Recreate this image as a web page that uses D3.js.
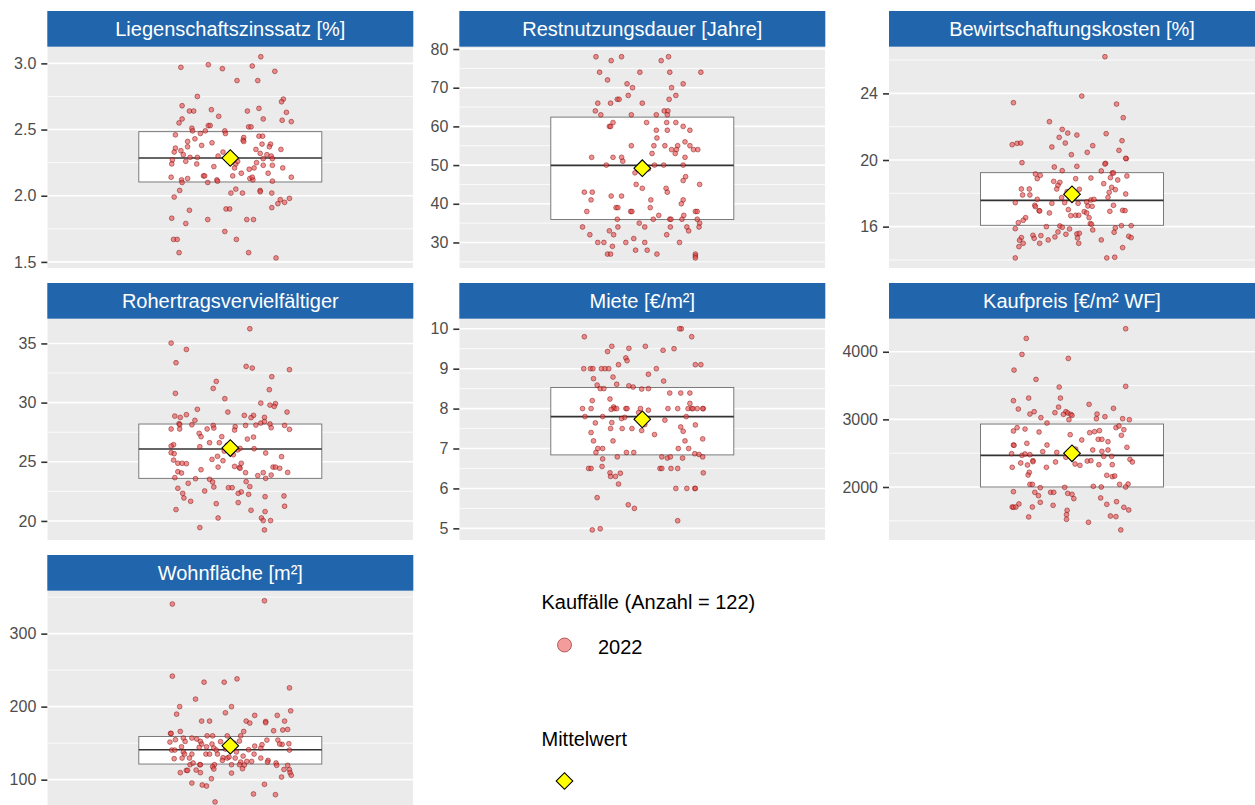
<!DOCTYPE html>
<html><head><meta charset="utf-8">
<script src="https://cdn.jsdelivr.net/npm/d3@7"></script>
<style>body{margin:0;background:#fff}svg{display:block;font-family:"Liberation Sans",Arial,sans-serif}</style>
</head><body><svg id="c" width="1255" height="805"></svg>
<script>
// ---------- data ----------
const panelTitles = ["Liegenschaftszinssatz [%]","Restnutzungsdauer [Jahre]","Bewirtschaftungskosten [%]","Rohertragsvervielfältiger","Miete [€/m²]","Kaufpreis [€/m² WF]","Wohnfläche [m²]"];
const tickValues = [[1.5,2,2.5,3],[30,40,50,60,70,80],[16,20,24],[20,25,30,35],[5,6,7,8,9,10],[2000,3000,4000],[100,200,300]];
const tickFormats = [".1f","d","d","d","d","d","d"];
const q1s     = [2.104, 35.95, 16.08, 23.6, 6.84, 2000, 121.4];
const medians = [2.285, 49.9, 17.58, 26.08, 7.8, 2468, 141];
const q3s     = [2.484, 62.4, 19.24, 28.19, 8.53, 2931, 159.2];
const means   = [2.285, 49.2, 17.94, 26.16, 7.73, 2498, 146.5];
const legendTitle = "Kauffälle (Anzahl = 122)";
const legendYear = "2022";
const legendMean = "Mittelwert";

// points: [horizontal jitter (-1..1 of jitter width), value]
const liegenschaftszinssatz = [[-0.81,2.97],[-0.36,2.99],[-0.13,2.96],[0.50,3.05],[0.36,2.98],[0.73,2.94],[0.11,2.87],[0.45,2.87],[-0.54,2.75],[0.87,2.73],[0.84,2.71],[-0.79,2.68],[-0.67,2.64],[-0.60,2.64],[-0.31,2.65],[0.92,2.63],[-0.19,2.60],[0.28,2.64],[0.47,2.66],[0.54,2.58],[-0.79,2.58],[-0.84,2.55],[0.85,2.57],[1.0,2.56],[-0.63,2.51],[-0.62,2.49],[-0.36,2.53],[-0.33,2.53],[-0.49,2.47],[-0.41,2.49],[-0.09,2.49],[-0.08,2.47],[0.30,2.52],[0.34,2.52],[-0.90,2.46],[-0.70,2.41],[0.47,2.45],[0.53,2.45],[0.22,2.44],[0.21,2.42],[0.22,2.41],[-0.47,2.38],[-0.30,2.40],[-0.70,2.37],[0.52,2.39],[0.66,2.39],[0.64,2.37],[-0.90,2.36],[-0.81,2.34],[-0.92,2.33],[0.83,2.35],[0.42,2.35],[-0.77,2.31],[-0.66,2.29],[-0.54,2.29],[-0.20,2.30],[0.49,2.32],[0.60,2.31],[0.67,2.30],[-0.95,2.27],[-0.96,2.24],[-0.73,2.26],[-0.55,2.24],[0.09,2.24],[0.07,2.21],[0.43,2.25],[0.54,2.28],[0.54,2.23],[0.69,2.28],[0.69,2.23],[0.86,2.21],[0.31,2.20],[0.39,2.21],[0.32,2.13],[0.37,2.12],[0.36,2.14],[0.04,2.15],[-0.44,2.15],[-0.42,2.15],[-0.97,2.14],[1.0,2.14],[-0.80,2.12],[-0.79,2.10],[-0.70,2.13],[-0.37,2.10],[-0.22,2.12],[-0.21,2.11],[0.69,2.11],[0.01,2.02],[0.09,2.05],[0.20,2.02],[0.49,2.04],[0.49,2.03],[0.68,2.02],[-0.92,1.99],[-0.83,2.04],[0.82,1.97],[0.89,1.95],[0.97,1.98],[0.78,1.94],[0.68,1.91],[-0.67,1.89],[-0.07,1.90],[-0.01,1.90],[-0.96,1.83],[-0.37,1.82],[-0.73,1.79],[0.27,1.82],[0.38,1.82],[-0.09,1.73],[0.10,1.67],[-0.93,1.67],[-0.87,1.67],[-0.84,1.57],[0.30,1.57],[0.75,1.53],[0.12,2.26],[-0.12,2.33],[0.18,2.17],[-0.27,2.22],[0.62,2.17],[-0.58,2.43]];
const restnutzungsdauer = [[-0.76,78],[-0.51,77],[-0.34,78],[0.31,77],[0.43,78],[-0.70,74],[-0.04,74],[0.45,74],[0.96,74],[-0.57,72],[-0.25,71],[-0.16,70],[0.48,70],[0.67,71],[-0.23,68],[0.55,68],[-0.73,66],[-0.52,66],[-0.41,67],[-0.38,67],[0.0,66],[0.44,67],[-0.77,64],[-0.68,63],[-0.18,63],[0.23,63],[0.36,64],[0.42,64],[0.41,63],[-0.54,60],[-0.52,60],[-0.48,61],[0.07,61],[0.40,61],[0.55,61],[0.67,60],[0.78,59],[0.23,59],[0.41,59],[0.24,57],[0.70,56],[-0.18,55],[0.19,55],[0.37,55],[0.58,55],[0.78,55],[0.48,54],[0.56,54],[0.84,54],[0.91,54],[0.54,53],[0.16,53],[-0.83,52],[-0.48,52],[-0.34,52],[-0.32,51],[0.70,52],[-0.59,50],[0.20,50],[0.35,50],[0.67,50],[0.71,47],[0.67,46],[-0.10,45],[0.0,44],[0.94,45],[0.39,44],[0.41,43],[-0.95,43],[-0.82,43],[-0.84,41],[-0.51,42],[-0.34,42],[0.14,41],[0.67,41],[0.64,40],[-0.91,38],[-0.43,39],[-0.40,39],[-0.19,38],[-0.17,38],[0.13,39],[0.87,38],[0.90,38],[-0.41,36],[0.18,36],[0.27,37],[0.45,36],[0.47,36],[0.65,36],[0.68,37],[0.90,36],[0.94,35],[0.93,34],[0.73,34],[0.76,33],[-0.98,34],[-0.40,34],[-0.05,35],[0.04,34],[0.46,34],[-0.54,33],[-0.47,32],[-0.86,32],[0.40,32],[-0.73,30],[-0.63,30],[-0.27,30],[-0.14,31],[0.04,30],[0.61,30],[-0.49,29],[-0.11,28],[0.08,28],[-0.57,27],[-0.52,27],[0.24,27],[0.87,27],[0.87,26.5],[0.87,26],[-0.12,48],[0.10,49]];
const bewirtschaftungskosten = [[0.54,26.2],[-0.96,23.44],[0.16,23.84],[0.73,23.36],[0.84,22.54],[-0.37,22.3],[-0.16,21.84],[-0.07,21.62],[0.08,21.5],[0.56,21.58],[-0.21,21.36],[0.82,21.16],[-0.98,20.92],[-0.90,21.0],[-0.84,21.02],[-0.11,21.02],[-0.33,20.78],[0.34,20.86],[0.77,20.58],[0.25,20.46],[-0.01,20.32],[0.89,20.08],[0.88,20.1],[-0.82,19.84],[0.55,19.8],[0.54,19.76],[-0.29,19.58],[0.08,19.62],[-0.16,19.36],[0.48,19.34],[0.66,19.22],[0.68,19.22],[-0.60,19.16],[-0.52,19.08],[0.90,19.04],[-0.57,18.88],[0.06,18.88],[0.31,18.92],[0.63,18.94],[0.75,18.8],[-0.30,18.72],[-0.20,18.66],[-0.23,18.48],[0.52,18.58],[0.65,18.36],[-0.25,18.26],[-0.83,18.26],[-0.70,18.26],[0.12,18.24],[0.71,18.22],[0.61,18.06],[-0.81,17.9],[-0.69,17.9],[0.88,17.96],[-0.17,17.74],[0.59,17.76],[-0.57,17.64],[-0.93,17.44],[-0.12,17.44],[0.24,17.48],[0.31,17.6],[0.36,17.64],[-0.61,17.28],[-0.60,17.2],[-0.33,17.4],[0.10,17.4],[0.26,17.24],[0.33,17.22],[0.68,17.28],[-0.54,16.96],[-0.53,16.94],[0.83,16.98],[0.87,16.96],[-0.06,17.02],[0.20,16.9],[0.24,16.82],[0.62,16.92],[-0.37,16.82],[-0.02,16.66],[0.06,16.68],[0.11,16.68],[0.28,16.54],[-0.76,16.54],[-0.80,16.38],[-0.88,16.24],[0.30,16.18],[0.32,16.14],[-0.42,16.0],[-0.20,16.04],[-0.16,15.96],[0.71,15.92],[0.81,16.06],[0.97,16.06],[-0.93,15.88],[-0.04,15.86],[0.34,15.8],[0.69,15.66],[-0.23,15.68],[-0.64,15.48],[-0.51,15.46],[0.08,15.56],[0.12,15.6],[-0.28,15.38],[-0.10,15.54],[-0.83,15.34],[-0.62,15.3],[0.09,15.32],[0.93,15.42],[0.97,15.34],[-0.39,15.2],[0.48,15.2],[-0.86,15.18],[-0.80,15.0],[-0.53,15.0],[0.11,15.0],[-0.87,14.8],[0.83,14.74],[-0.93,14.12],[0.57,14.12],[0.70,14.16],[0.05,17.9],[-0.08,18.1]];
const rohertragsvervielfaeltiger = [[0.32,36.24],[-0.97,35.03],[-0.72,34.49],[-0.89,33.37],[0.26,33.06],[0.36,32.92],[0.97,32.78],[0.68,32.19],[-0.23,31.79],[-0.28,31.2],[0.64,31.09],[-0.90,30.78],[-0.09,30.33],[0.50,29.96],[0.74,29.91],[0.65,29.79],[0.72,29.68],[-0.54,29.43],[-0.04,29.2],[0.93,29.2],[-0.72,28.98],[-0.91,28.86],[0.23,28.92],[0.38,28.92],[-0.82,28.75],[0.34,28.73],[0.56,28.75],[-0.58,28.5],[-0.84,28.22],[-0.83,28.13],[-0.63,28.13],[0.50,28.27],[0.65,28.19],[0.42,28.1],[0.56,28.39],[-0.28,28.07],[0.08,27.96],[0.25,28.07],[0.89,28.07],[-0.27,27.85],[0.67,27.88],[-0.97,27.77],[-0.83,27.77],[-0.38,27.77],[0.97,27.74],[0.07,27.68],[-0.51,27.4],[-0.48,27.12],[-0.14,27.12],[0.38,27.09],[0.28,26.92],[-0.34,26.61],[-0.18,26.61],[-0.93,26.44],[-0.97,26.33],[-0.50,26.27],[0.16,26.13],[0.39,26.1],[-0.97,25.77],[-0.92,25.68],[0.58,25.74],[-0.21,25.46],[0.84,25.43],[-0.30,25.2],[-0.12,25.09],[-0.93,25.14],[-0.86,24.87],[-0.79,24.87],[-0.72,24.84],[0.18,24.87],[0.07,24.61],[0.15,24.52],[0.16,24.45],[-0.20,24.55],[0.70,24.55],[0.74,24.55],[0.81,24.45],[-0.48,24.33],[-0.86,24.16],[-0.80,24.05],[0.25,24.08],[0.54,24.08],[0.94,24.1],[0.45,23.83],[0.67,23.88],[-0.91,23.66],[-0.57,23.57],[0.58,23.6],[-0.34,23.52],[-0.29,23.29],[0.26,23.32],[-0.69,23.18],[-0.27,22.87],[0.32,22.9],[-0.03,22.81],[0.03,22.81],[-0.86,22.76],[-0.42,22.53],[0.18,22.45],[0.13,22.33],[-0.78,22.33],[0.30,22.25],[-0.76,21.94],[0.57,22.05],[0.88,22.11],[-0.65,21.66],[0.13,21.55],[-0.23,21.46],[0.89,21.24],[-0.89,20.96],[0.34,20.9],[0.57,20.79],[-0.20,20.25],[0.51,20.25],[0.54,20.03],[0.66,20.03],[-0.50,19.44],[0.56,19.24],[0.12,26.0],[-0.05,26.4],[0.05,25.6],[-0.10,25.9]];
const miete = [[-0.95,9.8],[0.64,10.0],[0.61,10.0],[0.81,9.8],[-0.50,9.56],[-0.57,9.43],[-0.22,9.51],[0.05,9.56],[0.34,9.46],[0.52,9.5],[-0.27,9.27],[-0.25,9.2],[-0.96,9.0],[-0.85,9.0],[-0.81,9.0],[-0.67,9.0],[-0.61,9.0],[-0.55,9.0],[-0.39,9.1],[0.23,9.0],[0.87,9.1],[0.96,9.1],[0.10,8.86],[-0.48,8.79],[-0.80,8.75],[0.35,8.69],[-0.74,8.59],[-0.42,8.61],[-0.22,8.57],[-0.15,8.54],[-0.69,8.5],[-0.63,8.5],[-0.01,8.49],[0.10,8.5],[0.45,8.39],[0.63,8.39],[0.78,8.39],[-0.53,8.24],[-0.82,8.2],[0.78,8.13],[-0.47,8.04],[-0.46,8.0],[-0.42,8.0],[-0.51,7.98],[-0.98,8.0],[-0.84,8.0],[-0.27,8.0],[-0.25,8.0],[-0.03,8.0],[0.10,7.96],[0.42,8.0],[0.58,8.0],[0.75,8.0],[0.81,8.0],[0.83,8.0],[0.90,8.0],[1.0,8.0],[0.99,8.0],[-0.94,7.8],[-0.65,7.8],[-0.29,7.78],[-0.34,7.75],[0.72,7.8],[0.37,7.71],[-0.77,7.64],[-0.50,7.65],[0.87,7.59],[0.63,7.54],[0.67,7.43],[-0.52,7.5],[-0.33,7.5],[-0.17,7.5],[-0.01,7.45],[-0.84,7.4],[0.20,7.35],[0.99,7.24],[-0.80,7.19],[-0.48,7.19],[0.70,7.19],[-0.73,7.0],[-0.65,7.0],[-0.76,6.9],[0.59,7.0],[0.76,7.0],[-0.26,6.9],[-0.14,6.9],[0.86,6.87],[0.93,6.85],[0.99,6.79],[-0.41,6.79],[0.32,6.79],[0.41,6.76],[0.46,6.79],[0.66,6.76],[-0.65,6.74],[-0.88,6.5],[-0.84,6.5],[-0.66,6.55],[0.29,6.5],[0.32,6.5],[0.47,6.5],[0.58,6.5],[-0.53,6.39],[-0.36,6.38],[-0.52,6.3],[-0.44,6.3],[1.0,6.39],[-0.39,6.11],[0.55,6.0],[0.73,6.0],[0.86,6.0],[0.87,6.0],[-0.74,5.77],[-0.23,5.59],[-0.13,5.5],[0.58,5.19],[-0.82,4.96],[-0.69,4.99],[0.04,7.6],[-0.06,7.9]];
const kaufpreis = [[0.88,4340],[-0.75,4197],[-0.82,3961],[-0.06,3901],[-0.95,3729],[-0.59,3591],[0.88,3488],[-0.21,3478],[-0.71,3315],[-0.19,3315],[-0.96,3276],[0.28,3222],[-0.88,3153],[0.68,3163],[-0.22,3182],[-0.62,3113],[-0.69,3079],[-0.28,3099],[-0.10,3113],[-0.07,3094],[-0.14,3074],[-0.02,3074],[0.0,3059],[0.41,3079],[0.54,3039],[0.40,3010],[-0.51,3025],[0.83,3010],[0.94,2995],[-0.05,2995],[-0.41,2946],[-0.90,2877],[-0.77,2857],[-0.96,2828],[-0.54,2813],[0.72,2877],[0.77,2902],[0.85,2847],[0.29,2803],[0.37,2818],[0.45,2833],[0.81,2764],[-0.03,2774],[0.16,2695],[0.43,2705],[0.49,2705],[0.59,2670],[-0.96,2621],[-0.95,2616],[-0.74,2646],[-0.41,2621],[0.90,2587],[-0.48,2523],[-0.25,2512],[0.34,2547],[0.49,2527],[0.59,2547],[-0.99,2493],[-0.82,2468],[-0.77,2488],[-0.69,2478],[0.52,2453],[0.65,2453],[-0.64,2389],[-0.64,2374],[-0.27,2370],[0.25,2384],[0.31,2389],[0.95,2409],[0.99,2370],[-0.84,2355],[-0.73,2325],[0.05,2340],[0.13,2320],[0.44,2330],[0.66,2330],[-0.98,2291],[-0.42,2291],[-0.70,2217],[-0.72,2177],[0.57,2173],[0.66,2153],[0.70,2163],[-0.69,2039],[-0.65,2039],[0.78,2039],[0.92,2044],[-0.52,1990],[-0.12,1995],[0.35,2010],[0.48,2000],[0.88,2000],[-0.96,1931],[-0.61,1921],[-0.35,1921],[-0.30,1921],[-0.07,1906],[0.0,1892],[-0.55,1872],[0.03,1828],[0.47,1838],[-0.52,1773],[-0.87,1749],[0.73,1783],[-0.31,1729],[0.57,1744],[-0.65,1704],[-0.98,1704],[-0.96,1700],[-0.92,1704],[0.85,1700],[0.93,1660],[-0.08,1655],[-0.71,1557],[-0.09,1591],[0.63,1571],[0.72,1562],[-0.09,1522],[0.27,1478],[0.80,1365],[0.06,2560],[-0.10,2440]];
const wohnflaeche = [[-0.95,340.5],[0.56,345],[-0.95,241.7],[-0.43,233.5],[-0.10,233.5],[0.11,238],[0.97,225.7],[-0.57,210.3],[-0.83,200],[0.02,200],[0.99,194.3],[-0.88,189.7],[-0.08,191.6],[0.40,188],[0.77,188],[-0.47,180.2],[-0.34,180.2],[0.26,180.2],[0.58,179.7],[0.58,178],[0.32,177.5],[0.89,180.2],[-0.98,163.3],[-0.97,163.3],[-0.82,166],[0.22,166],[0.71,167],[0.86,168],[0.94,168.8],[-0.90,154.7],[-0.77,157],[-0.63,157],[-0.74,152.4],[-0.55,155.6],[-0.49,152.4],[-0.99,151.5],[-0.38,160],[-0.29,160],[-0.05,160],[0.17,160],[0.15,152.8],[0.60,154.2],[0.78,154.2],[0.85,148.3],[0.96,149.2],[-0.47,148.8],[-0.30,148.8],[-0.96,140.5],[-0.91,140.5],[-0.80,145],[-0.51,144.2],[-0.39,145],[-0.27,143.3],[-0.23,140.5],[0.40,146],[0.50,143.3],[0.52,147.8],[0.81,148.8],[0.97,140.5],[-0.77,137.8],[-0.75,135],[-0.63,135],[-0.40,135],[-0.34,135],[-0.21,135],[-0.12,130],[-0.05,129.6],[0.08,129.6],[-0.92,128.7],[-0.79,129.6],[-0.67,129.6],[0.21,132.3],[0.39,135],[0.50,129.6],[0.62,126.4],[0.61,124.1],[-0.13,126.4],[-0.02,131],[0.27,125],[0.35,125],[0.17,124.1],[0.15,120.5],[0.23,120],[-0.50,120.5],[-0.49,120.5],[-0.26,120.5],[-0.66,120.5],[-0.61,122.8],[-0.29,117.7],[0.02,120.5],[0.75,122.8],[0.76,119.6],[0.94,119.6],[0.88,114],[0.97,113.7],[0.98,109.6],[0.20,115],[-0.72,112.7],[-0.70,112.7],[-0.56,113.2],[-0.27,114.6],[-0.82,109.6],[-0.49,109.6],[0.02,109],[1.0,106],[0.84,103.6],[-0.31,101.3],[-0.63,95.4],[-0.46,92.7],[-0.39,91.3],[0.56,93.6],[0.38,80.4],[0.74,79.5],[-0.25,69.5],[0.06,150],[-0.08,142],[0.10,138],[-0.16,152],[0.30,141]];
const panelData = [liegenschaftszinssatz, restnutzungsdauer, bewirtschaftungskosten, rohertragsvervielfaeltiger, miete, kaufpreis, wohnflaeche];

// ---------- layout ----------
const colX = [47.3, 459.3, 889];
const rowY = [11, 283, 555];
const panelW = 366, stripH = 35.7, panelH = 221.3;
const jitterWidth = 0.2;

const svg = d3.select("#c");
const defs = svg.append("defs");

const ptStyle = s => s.attr("fill","#E84A4A").attr("fill-opacity",0.6)
  .attr("stroke","#7A0000").attr("stroke-opacity",0.65).attr("stroke-width",0.7);
const diamond = d3.symbol().type(d3.symbolSquare).size(138);

panelData.forEach((pts, i) => {
  const x0 = colX[i % 3], y0 = rowY[Math.floor(i / 3)];
  const top = y0 + stripH, bottom = top + panelH;
  const g = svg.append("g");
  const ext = d3.extent(pts, d => d[1]);
  const pad = (ext[1] - ext[0]) * 0.05;
  const y = d3.scaleLinear().domain([ext[0] - pad, ext[1] + pad]).range([bottom, top]);
  const x = d3.scaleLinear().domain([0.4, 1.6]).range([x0, x0 + panelW]);

  const cid = "clip" + i;
  defs.append("clipPath").attr("id", cid).append("rect")
    .attr("x", x0).attr("y", top).attr("width", panelW).attr("height", panelH);

  const pg = g.append("g").attr("clip-path", `url(#${cid})`);
  pg.append("rect").attr("x", x0).attr("y", top).attr("width", panelW).attr("height", panelH).attr("fill", "#EBEBEB");

  const tv = tickValues[i];
  const step = tv[1] - tv[0];
  const minor = [];
  for (let k = -1; k < tv.length; k++) minor.push(tv[0] + step * (k + 0.5));
  const dom = y.domain();
  pg.selectAll(".mn").data(minor.filter(v => v >= dom[0] && v <= dom[1])).join("line")
    .attr("x1", x0).attr("x2", x0 + panelW).attr("y1", d => y(d)).attr("y2", d => y(d))
    .attr("stroke", "#fff").attr("stroke-width", 0.8);
  pg.selectAll(".mj").data(tv).join("line")
    .attr("x1", x0).attr("x2", x0 + panelW).attr("y1", d => y(d)).attr("y2", d => y(d))
    .attr("stroke", "#fff").attr("stroke-width", 1.6);

  // box
  pg.append("rect").attr("x", x(0.7)).attr("width", x(1.3) - x(0.7))
    .attr("y", y(q3s[i])).attr("height", y(q1s[i]) - y(q3s[i]))
    .attr("fill", "#fff").attr("stroke", "#6E6E6E").attr("stroke-width", 0.9);
  pg.append("line").attr("x1", x(0.7)).attr("x2", x(1.3)).attr("y1", y(medians[i])).attr("y2", y(medians[i]))
    .attr("stroke", "#333").attr("stroke-width", 1.7);

  // points
  pg.selectAll("circle").data(pts).join("circle")
    .attr("cx", d => x(1 + d[0] * jitterWidth)).attr("cy", d => y(d[1])).attr("r", 2.4).call(ptStyle);

  // mean
  pg.append("path").attr("d", diamond)
    .attr("transform", `translate(${x(1)},${y(means[i])}) rotate(45)`)
    .attr("fill", "#FFFF00").attr("stroke", "#000").attr("stroke-width", 1.1);

  // axis
  const ax = g.append("g").attr("transform", `translate(${x0},0)`)
    .call(d3.axisLeft(y).tickValues(tv).tickFormat(d3.format(tickFormats[i])).tickSize(6).tickPadding(5));
  ax.select(".domain").remove();
  ax.selectAll(".tick line").attr("stroke", "#333").attr("stroke-width", 1.6);
  ax.selectAll(".tick text").attr("fill", "#4D4D4D").style("font-size", "16px")
    .style("font-family", '"Liberation Sans",Arial,sans-serif');

  // strip
  g.append("rect").attr("x", x0).attr("y", y0).attr("width", panelW).attr("height", stripH).attr("fill", "#2166AC");
  g.append("text").attr("x", x0 + panelW / 2).attr("y", y0 + stripH / 2).attr("dy", "0.36em")
    .attr("text-anchor", "middle").attr("fill", "#fff").style("font-size", "20px").text(panelTitles[i]);
});

// ---------- legend ----------
const lg = svg.append("g").style("font-size", "20px").attr("fill", "#000");
lg.append("text").attr("x", 541.5).attr("y", 609).text(legendTitle);
lg.append("circle").attr("cx", 564.5).attr("cy", 645).attr("r", 7)
  .attr("fill","#F07A7A").attr("fill-opacity",0.75).attr("stroke","#8B2020").attr("stroke-opacity",0.7).attr("stroke-width",0.9);
lg.append("text").attr("x", 598).attr("y", 654).text(legendYear);
lg.append("text").attr("x", 541.5).attr("y", 746).text(legendMean);
lg.append("path").attr("d", d3.symbol().type(d3.symbolSquare).size(138))
  .attr("transform", "translate(564.5,781) rotate(45)")
  .attr("fill", "#FFFF00").attr("stroke", "#000").attr("stroke-width", 1.1);
</script></body></html>
